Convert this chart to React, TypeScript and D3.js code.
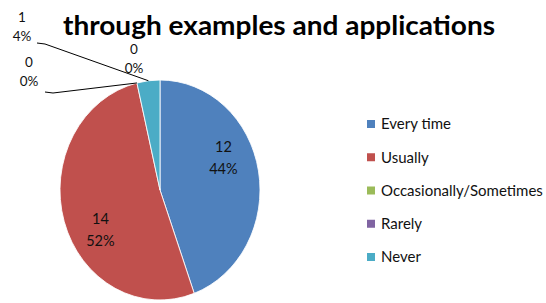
import React from "react";
import * as d3 from "d3";

const categories = ["Every time", "Usually", "Occasionally/Sometimes", "Rarely", "Never"];
const values = [12, 14, 0, 0, 1];
const percentLabels = ["44%", "52%", "0%", "0%", "4%"];
const colors = ["#4F81BD", "#C0504D", "#9BBB59", "#8064A2", "#4BACC6"];
const titleText = "through examples and applications";

const W = 546;
const H = 303;
const cx = 160;
const cy = 190;
const R = 100;
const yStretch = 1.1;
const FONT = "Lato, 'Open Sans', sans-serif";

export default function App() {
  const pie = d3.pie<number>().sort(null).value((d) => d).startAngle(0).endAngle(2 * Math.PI);
  const arcs = pie(values);
  const arc = d3.arc<d3.PieArcDatum<number>>().innerRadius(0).outerRadius(R);

  const pt = (angle: number, r: number): [number, number] => [
    cx + Math.sin(angle) * r,
    cy - Math.cos(angle) * r * yStretch,
  ];

  const inside = arcs
    .map((a, i) => ({ a, i }))
    .filter(({ a }) => a.endAngle - a.startAngle > 0.5)
    .map(({ a, i }) => {
      const mid = (a.startAngle + a.endAngle) / 2 - (15 * Math.PI) / 180;
      const [x, y] = pt(mid, 70);
      return { x, y, i };
    });

  const outsideLayout: Record<number, { lx: number; ly: number; line: boolean; ax: number; ay: number }> = {
    4: { lx: 22, ly: 17, line: true, ax: 37, ay: 43 },
    2: { lx: 29, ly: 62, line: true, ax: 45, ay: 92 },
    3: { lx: 134, ly: 49, line: false, ax: 0, ay: 0 },
  };

  const legendY = d3.scalePoint<string>().domain(categories).range([124, 257]);

  return (
    <svg
      width={W}
      height={H}
      style={{ position: "absolute", left: 0, top: 0, background: "#fff" }}
      fontFamily={FONT}
    >
      <text
        x={63}
        y={35}
        fontSize={27}
        fontWeight="bold"
        fill="#000"
        textLength={432}
        lengthAdjust="spacingAndGlyphs"
      >
        {titleText}
      </text>

      <g transform={`translate(${cx},${cy}) scale(1,${yStretch})`}>
        {arcs.map((a, i) =>
          a.endAngle - a.startAngle > 0 ? (
            <path key={i} d={arc(a) || ""} fill={colors[i]} stroke="#fff" strokeWidth={0.8} />
          ) : null
        )}
      </g>

      {inside.map(({ x, y, i }) => (
        <g key={i} fontSize={14.5} fill="#111" textAnchor="middle">
          <text x={x} y={y - 11} dy="0.35em">{values[i]}</text>
          <text x={x} y={y + 11} dy="0.35em">{percentLabels[i]}</text>
        </g>
      ))}

      {Object.keys(outsideLayout).map((k) => {
        const i = +k;
        const L = outsideLayout[i];
        const a = arcs[i];
        const mid = (a.startAngle + a.endAngle) / 2;
        const [ex, ey] = pt(mid, R);
        return (
          <g key={i}>
            {L.line && (
              <polyline
                points={`${L.ax},${L.ay} ${L.ax + 8},${L.ay + 1} ${ex},${ey}`}
                fill="none"
                stroke="#000"
                strokeWidth={1}
              />
            )}
            <g fontSize={13.5} fill="#111" textAnchor="middle">
              <text x={L.lx} y={L.ly} dy="0.35em">{values[i]}</text>
              <text x={L.lx} y={L.ly + 19} dy="0.35em">{percentLabels[i]}</text>
            </g>
          </g>
        );
      })}

      {categories.map((c, i) => (
        <g key={c} transform={`translate(367,${legendY(c)})`}>
          <rect x={0} y={-4} width={8} height={8} fill={colors[i]} />
          <text x={14} y={0} dy="0.35em" fontSize={15} fill="#111">
            {c}
          </text>
        </g>
      ))}
    </svg>
  );
}
